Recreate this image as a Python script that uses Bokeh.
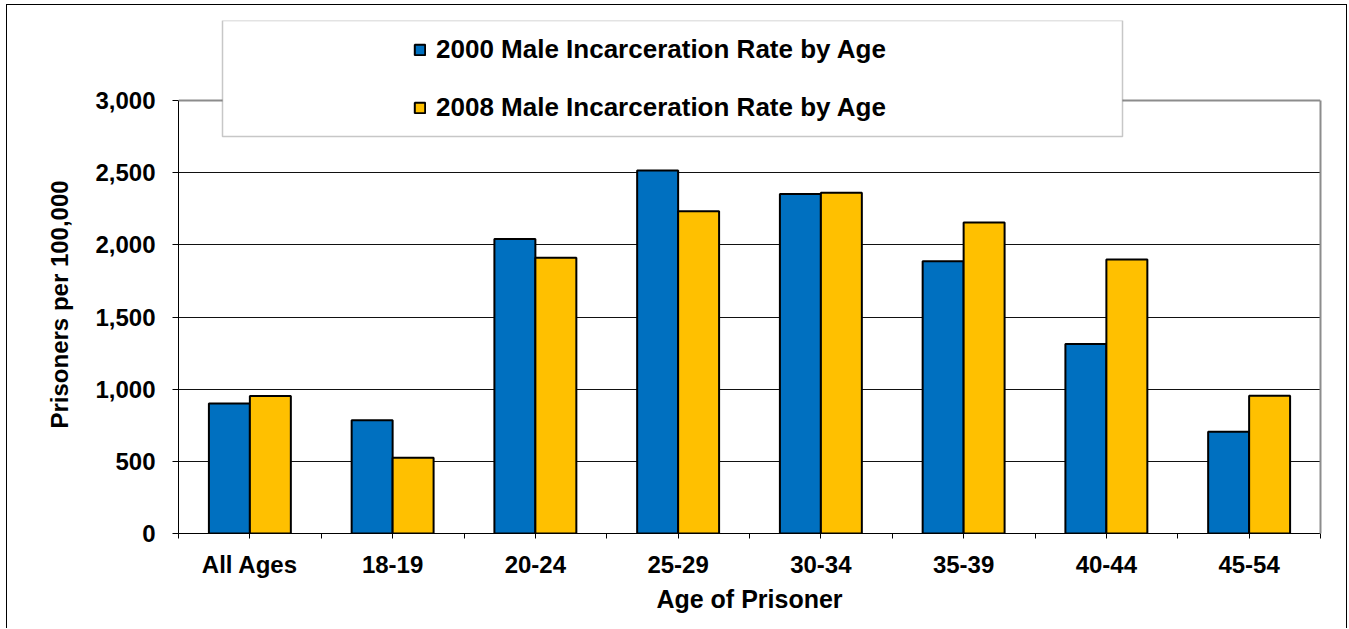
import numpy as np
from bokeh.plotting import figure
from bokeh.models import (Range1d, FixedTicker, NumeralTickFormatter, LinearAxis, Span,
                          BoxAnnotation, Legend, LegendItem, ColumnDataSource)
from bokeh.embed import file_html
from bokeh.resources import INLINE

# ---------------- data ----------------
categories = ["All Ages", "18-19", "20-24", "25-29", "30-34", "35-39", "40-44", "45-54"]
rate_2000 = [901, 784, 2041, 2515, 2352, 1887, 1313, 705]
rate_2008 = [953, 525, 1911, 2232, 2361, 2155, 1898, 955]
y_ticks = [0, 500, 1000, 1500, 2000, 2500, 3000]
series_names = ["2000 Male Incarceration Rate by Age", "2008 Male Incarceration Rate by Age"]
series_colors = ["#0070C0", "#FFC000"]
x_title = "Age of Prisoner"
y_title = "Prisoners per 100,000"

# ---------------- layout / style ----------------
FONT = "Liberation Sans"
W, H = 1341, 624
B_LEFT, B_RIGHT, B_TOP, B_BOTTOM = 171, 28, 15, 96
TOP_GAP_PX = 80          # room between frame top and the top tick (for the legend box)
BAR_W = 0.287            # width of one bar, as a fraction of a category slot

n = len(categories)
frame_h = H - B_TOP - B_BOTTOM
y_max = y_ticks[-1]
y_end = y_max * frame_h / (frame_h - TOP_GAP_PX)

centers = np.arange(n) + 0.5
src = ColumnDataSource(dict(
    cat=categories,
    x0=centers - BAR_W / 2,
    x1=centers + BAR_W / 2,
    v0=rate_2000,
    v1=rate_2008,
))

p = figure(width=W, height=H, x_range=Range1d(0, n), y_range=Range1d(0, y_end),
           output_backend="svg", toolbar_location=None,
           title=y_title, title_location="left",
           min_border_left=B_LEFT, min_border_right=B_RIGHT,
           min_border_top=B_TOP, min_border_bottom=B_BOTTOM)
p.styles = {"margin-left": "6px", "margin-top": "4px",
            "border-left": "1px solid #000", "border-top": "1px solid #000",
            "border-right": "1px solid #000"}
p.outline_line_color = None
p.background_fill_color = "white"
p.border_fill_color = "white"

# vertical axis title (as a left-side title so it can be offset)
p.title.text_font = FONT
p.title.text_font_style = "bold"
p.title.text_font_size = "24px"
p.title.text_color = "black"
p.title.align = "left"
p.title.offset = 105
p.title.standoff = 39

r0 = p.vbar(x="x0", top="v0", width=BAR_W, bottom=0, source=src,
            fill_color=series_colors[0], line_color="black", line_width=2)
r1 = p.vbar(x="x1", top="v1", width=BAR_W, bottom=0, source=src,
            fill_color=series_colors[1], line_color="black", line_width=2)

# grid
p.xgrid.visible = False
p.ygrid.ticker = FixedTicker(ticks=y_ticks[1:-1])
p.ygrid.grid_line_color = "#111111"
p.ygrid.grid_line_width = 1

# y axis
ya = p.yaxis[0]
ya.ticker = FixedTicker(ticks=y_ticks)
ya.formatter = NumeralTickFormatter(format="0,0")
ya.bounds = (0, y_max)
ya.axis_line_color = "black"
ya.axis_line_width = 1
ya.major_tick_in = 0
ya.major_tick_out = 6
ya.major_tick_line_color = "black"
ya.minor_tick_line_color = None
ya.major_label_standoff = 17
ya.major_label_text_font = FONT
ya.major_label_text_font_style = "bold"
ya.major_label_text_font_size = "24px"
ya.major_label_text_color = "black"

# x axis
xa = p.xaxis[0]
half_ticks = [k * 0.5 for k in range(2 * n + 1)]
xa.ticker = FixedTicker(ticks=half_ticks)
overrides = {i: "" for i in range(n + 1)}
overrides.update({float(c): lab for c, lab in zip(centers, categories)})
xa.major_label_overrides = overrides
xa.axis_line_color = "black"
xa.major_tick_in = 0
xa.major_tick_out = 5
xa.major_tick_line_color = "black"
xa.minor_tick_line_color = None
xa.major_label_standoff = 12
xa.major_label_text_font = FONT
xa.major_label_text_font_style = "bold"
xa.major_label_text_font_size = "24px"
xa.major_label_text_color = "black"
xa.axis_label = x_title
xa.axis_label_text_font = FONT
xa.axis_label_text_font_style = "bold"
xa.axis_label_text_font_size = "25px"
xa.axis_label_text_color = "black"
xa.axis_label_standoff = 4

# right border of plot area
ra = LinearAxis(ticker=FixedTicker(ticks=[]), bounds=(0, y_max),
                axis_line_color="#8c8c8c", axis_line_width=2,
                major_tick_line_color=None, minor_tick_line_color=None)
p.add_layout(ra, "right")

# top border of plot area
p.add_layout(Span(location=y_max, dimension="width", line_color="#8c8c8c", line_width=2))

# legend box
box = BoxAnnotation(left=44, right=944, bottom=397, top=513,
                    left_units="screen", right_units="screen",
                    top_units="screen", bottom_units="screen",
                    fill_color="white", fill_alpha=1.0,
                    line_color="#444444", line_width=1.5)
p.add_layout(box)

legend = Legend(items=[LegendItem(label=series_names[0], renderers=[r0]),
                       LegendItem(label=series_names[1], renderers=[r1])],
                location=(235, 410), orientation="vertical",
                padding=0, margin=0, spacing=27,
                glyph_width=13, glyph_height=13, label_standoff=10,
                label_text_font=FONT, label_text_font_style="bold",
                label_text_font_size="26px", label_text_color="black",
                border_line_color=None, background_fill_alpha=0)
p.add_layout(legend, "center")

open("out.html", "w").write(file_html(p, INLINE))
